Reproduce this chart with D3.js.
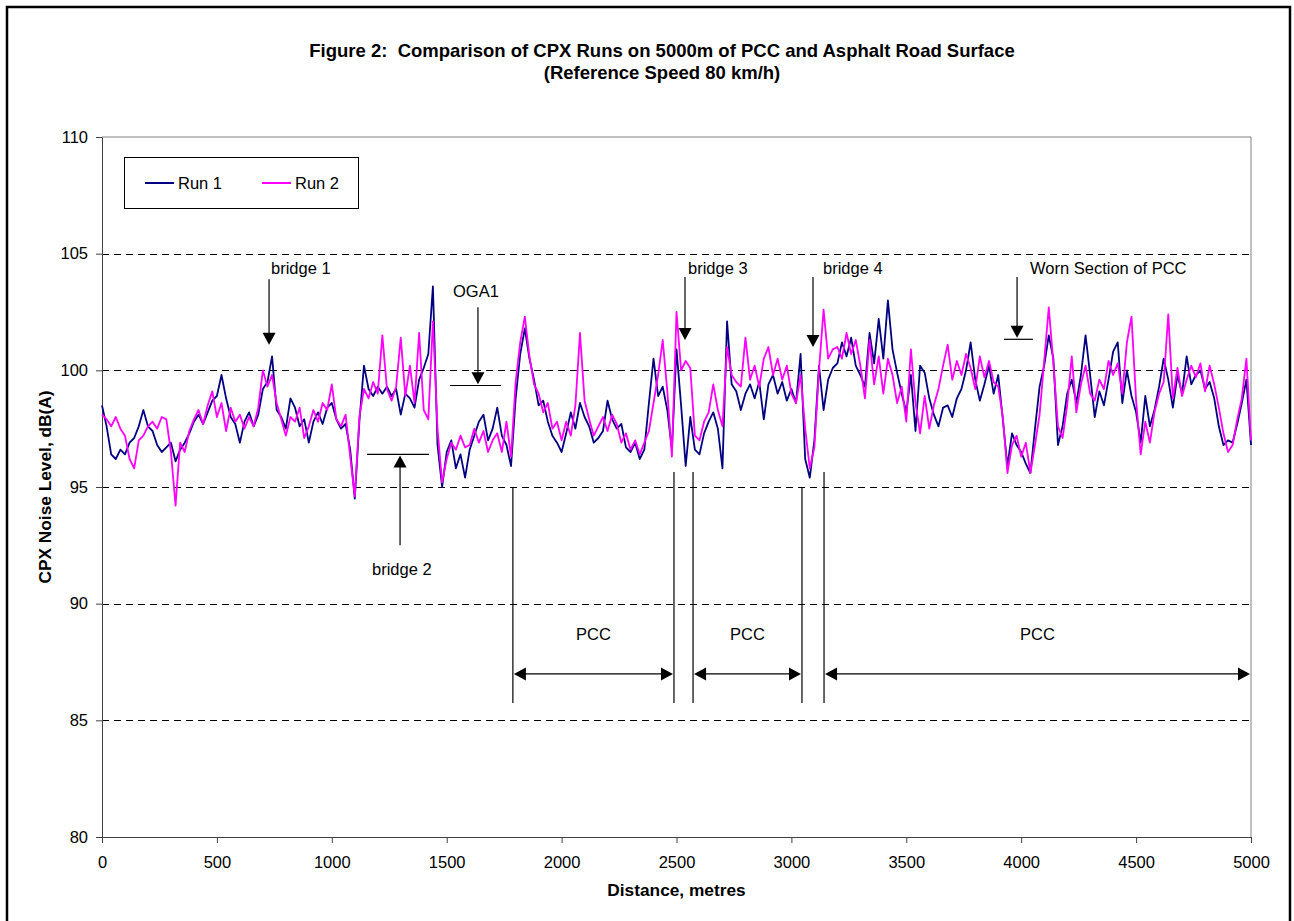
<!DOCTYPE html>
<html>
<head>
<meta charset="utf-8">
<script src="https://cdn.jsdelivr.net/npm/d3@7"></script>
<style>
  body { margin: 0; background: #fff; }
  svg { font-family: "Liberation Sans", Arial, sans-serif; }
</style>
</head>
<body>
<svg id="chart"></svg>
<script>
// sampling step along the road, metres
const stepMetres = 20;

// CPX noise level, dB(A), one value every 20 m from 0 to 5000 m
const run1 = [
  98.5, 97.6, 96.4, 96.2, 96.6, 96.4, 96.9, 97.1, 97.6, 98.3,
  97.6, 97.4, 96.8, 96.5, 96.7, 96.9, 96.1, 96.6, 96.9, 97.3,
  97.8, 98.1, 97.7, 98.2, 98.7, 98.9, 99.8, 98.8, 98.0, 97.7,
  96.9, 97.8, 98.2, 97.6, 98.1, 99.2, 99.5, 100.6, 98.3, 98.0,
  97.5, 98.8, 98.4, 97.6, 97.9, 96.9, 97.8, 98.2, 97.7, 98.4,
  98.6, 97.9, 97.5, 97.7, 96.6, 94.5, 97.8, 100.2, 99.2, 98.9,
  99.3, 99.0, 99.3, 98.9, 99.2, 98.1, 99.0, 98.8, 98.4, 99.6,
  100.1, 100.7, 103.6, 96.8, 95.0, 96.5, 97.0, 95.8, 96.4, 95.4,
  96.6, 97.2, 97.8, 98.1, 97.0, 97.5, 98.4, 97.2, 96.8, 95.9,
  98.8, 100.7, 101.8, 100.5, 99.6, 98.5, 98.7, 97.8, 97.2, 96.9,
  96.5, 97.3, 98.2, 97.5, 98.6, 98.0, 97.6, 96.9, 97.1, 97.4,
  98.7, 97.9, 97.5, 97.7, 96.7, 96.5, 96.9, 96.2, 96.6, 98.6,
  100.5, 98.9, 99.3, 98.3, 96.6, 100.9, 98.5, 95.9, 98.0, 96.6,
  96.4, 97.3, 97.8, 98.2, 97.5, 95.8, 102.1, 99.4, 99.1, 98.3,
  99.0, 99.4, 98.8, 99.5, 97.9, 99.4, 99.8, 99.0, 99.5, 98.7,
  99.2, 98.6, 100.7, 96.2, 95.4, 97.0, 100.2, 98.3, 99.6, 100.1,
  100.3, 101.2, 100.6, 101.4, 100.2, 99.8, 99.3, 101.6, 100.3, 102.2,
  100.5, 103.0, 100.9, 99.9, 99.0, 98.2, 99.8, 97.4, 100.2, 99.9,
  98.8, 98.1, 97.6, 98.4, 98.5, 98.0, 98.8, 99.2, 100.0, 101.2,
  99.6, 98.7, 99.4, 100.2, 99.0, 99.8, 97.9, 95.9, 97.3, 96.8,
  96.5, 96.0, 95.6, 97.5, 99.3, 100.2, 101.5, 100.5, 96.8, 97.6,
  99.0, 99.6, 98.6, 99.8, 101.5, 99.8, 98.0, 99.1, 98.5, 99.6,
  100.8, 101.2, 98.6, 100.0, 98.9, 98.2, 96.9, 98.9, 97.6, 98.3,
  99.3, 100.5, 99.6, 98.4, 99.8, 99.0, 100.6, 99.4, 99.8, 100.0,
  99.2, 99.5, 98.8, 97.6, 96.8, 97.0, 96.9, 97.7, 98.6, 99.6,
  96.8
];

const run2 = [
  98.1, 97.9, 97.6, 98.0, 97.5, 97.2, 96.2, 95.8, 97.0, 97.2,
  97.6, 97.8, 97.5, 98.0, 97.9, 96.5, 94.2, 96.9, 96.5, 97.4,
  97.9, 98.3, 97.7, 98.5, 99.1, 98.0, 98.6, 97.4, 98.4, 97.8,
  98.1, 97.5, 98.0, 97.6, 98.4, 100.0, 99.3, 99.8, 98.6, 97.9,
  97.2, 98.0, 97.8, 98.4, 97.1, 97.6, 98.3, 97.8, 98.6, 98.3,
  99.4, 97.9, 97.6, 98.1, 96.3, 94.6, 98.0, 99.2, 98.8, 99.5,
  99.0, 101.5, 99.2, 98.7, 99.3, 101.4, 98.9, 100.2, 98.6, 101.6,
  98.3, 97.9, 102.1, 97.5, 95.2, 96.2, 96.9, 96.6, 97.2, 96.7,
  96.8, 97.5, 96.9, 97.4, 96.5, 97.0, 97.3, 96.5, 97.8, 96.3,
  99.5, 101.2, 102.3, 100.6, 99.4, 99.0, 98.2, 98.6, 97.5, 97.8,
  97.0, 97.8, 97.2, 98.5, 101.6, 98.7, 97.9, 97.2, 97.6, 98.0,
  97.4, 98.1, 97.7, 96.9, 97.3, 96.6, 97.0, 96.4, 96.9, 97.4,
  98.6, 99.8, 101.3, 99.1, 96.3, 102.5, 100.0, 100.4, 100.1, 97.2,
  97.0, 97.8, 98.2, 99.4, 98.3, 97.6, 101.0, 99.8, 99.5, 99.3,
  101.4, 99.6, 100.2, 99.3, 100.5, 101.0, 99.8, 100.5, 99.6, 100.2,
  99.0, 98.6, 99.8, 97.5, 95.8, 96.7, 100.0, 102.6, 100.5, 100.9,
  101.0, 100.5, 101.6, 100.7, 101.3, 100.2, 98.8, 101.3, 99.4, 100.6,
  99.0, 100.5, 99.8, 98.6, 99.3, 97.8, 100.9, 98.6, 97.3, 98.9,
  97.5, 98.5, 99.2, 100.2, 101.1, 99.6, 100.4, 99.8, 100.7, 100.1,
  99.2, 100.6, 99.7, 100.4, 99.5, 99.3, 98.0, 95.6, 96.8, 97.2,
  96.3, 96.9, 95.6, 96.8, 98.1, 100.4, 102.7, 100.3, 97.6, 97.1,
  98.5, 100.6, 98.2, 99.4, 100.2, 99.0, 98.7, 99.6, 99.2, 100.4,
  99.8, 100.3, 99.0, 101.2, 102.3, 98.7, 96.4, 97.8, 96.9, 98.2,
  99.0, 99.5, 102.4, 98.8, 100.1, 98.9, 99.6, 100.2, 99.7, 100.3,
  99.1, 100.2, 99.4, 98.4, 97.3, 96.5, 96.8, 97.9, 98.8, 100.5,
  97.0
];

const seriesNames = ['Run 1', 'Run 2'];
const seriesColors = ['#000080', '#ff00ff'];

const yTicks = [80, 85, 90, 95, 100, 105, 110];
const xTicks = [0, 500, 1000, 1500, 2000, 2500, 3000, 3500, 4000, 4500, 5000];
const gridValues = [85, 90, 95, 100, 105];

// annotations in data units: [distance, dB]
const pointerArrows = [
  { label: 'bridge 1', from: [727, 103.9], to: [727, 101.1] },
  { label: 'OGA1', from: [1636, 102.7], to: [1636, 99.4] },
  { label: 'bridge 3', from: [2537, 104.0], to: [2537, 101.3] },
  { label: 'bridge 4', from: [3094, 104.0], to: [3094, 101.0] },
  { label: 'Worn Section of PCC', from: [3982, 104.0], to: [3982, 101.4] },
  { label: 'bridge 2', from: [1297, 92.5], to: [1297, 96.35] }
];
const markerBars = [
  { x1: 1514, x2: 1736, y: 99.35 },
  { x1: 1153, x2: 1423, y: 96.4 },
  { x1: 3925, x2: 4051, y: 101.33 }
];
const sectionLines = [
  { x: 1788, top: 94.96 },
  { x: 2489, top: 95.64 },
  { x: 2572, top: 95.64 },
  { x: 3046, top: 94.96 },
  { x: 3142, top: 95.64 }
];
const sectionBottom = 85.74;
const pccSpans = [[1788, 2489], [2572, 3046], [3142, 5000]];
const spanLevel = 86.99;
const spanLabelLevel = 88.7;

const config = {
  width: 1294,
  height: 921,
  margin: { top: 137, right: 43, bottom: 84, left: 102 }
};

const svg = d3.select('#chart')
    .attr('width', config.width)
    .attr('height', config.height);

const innerW = config.width - config.margin.left - config.margin.right;
const innerH = config.height - config.margin.top - config.margin.bottom;

// outer frame of the figure
svg.append('rect')
    .attr('x', 7).attr('y', 7)
    .attr('width', 1283).attr('height', 940)
    .attr('fill', 'none')
    .attr('stroke', '#000')
    .attr('stroke-width', 2.5);

const x = d3.scaleLinear().domain([0, 5000]).range([0, innerW]);
const y = d3.scaleLinear().domain([80, 110]).range([innerH, 0]);

const chart = svg.append('g')
    .attr('transform', `translate(${config.margin.left},${config.margin.top})`);

// titles
svg.append('text')
    .attr('x', 662).attr('y', 57)
    .attr('text-anchor', 'middle')
    .style('white-space', 'pre')
    .style('font-weight', 'bold').style('font-size', '18.5px')
    .text('Figure 2:  Comparison of CPX Runs on 5000m of PCC and Asphalt Road Surface');
svg.append('text')
    .attr('x', 662).attr('y', 79)
    .attr('text-anchor', 'middle')
    .style('font-weight', 'bold').style('font-size', '18.5px')
    .text('(Reference Speed 80 km/h)');

// plot area border (top and right)
chart.append('path')
    .attr('d', `M0,0H${innerW}V${innerH}`)
    .attr('fill', 'none')
    .attr('stroke', '#808080')
    .attr('stroke-width', 1);

// dashed gridlines
chart.selectAll('.grid')
    .data(gridValues)
    .join('line')
    .attr('class', 'grid')
    .attr('x1', 0).attr('x2', innerW)
    .attr('y1', d => Math.round(y(d)) + 0.5)
    .attr('y2', d => Math.round(y(d)) + 0.5)
    .attr('stroke', '#000')
    .attr('stroke-dasharray', '7,5');

// axes
const yAxis = chart.append('g')
    .call(d3.axisLeft(y).tickValues(yTicks).tickSize(6).tickSizeOuter(0).tickPadding(8));
const xAxis = chart.append('g')
    .attr('transform', `translate(0,${innerH})`)
    .call(d3.axisBottom(x).tickValues(xTicks).tickFormat(d3.format('d'))
      .tickSize(6).tickSizeOuter(0).tickPadding(13));

[yAxis, xAxis].forEach(ax => {
  ax.select('.domain').attr('stroke', '#404040');
  ax.selectAll('.tick line').attr('stroke', '#404040');
  ax.selectAll('.tick text')
      .attr('fill', '#000')
      .style('font-size', '16.5px')
      .style('font-family', '"Liberation Sans", Arial, sans-serif');
});

svg.append('text')
    .attr('transform', `translate(51,${config.margin.top + innerH / 2}) rotate(-90)`)
    .attr('text-anchor', 'middle')
    .style('font-weight', 'bold').style('font-size', '17.3px')
    .text('CPX Noise Level, dB(A)');
svg.append('text')
    .attr('x', config.margin.left + innerW / 2).attr('y', 896)
    .attr('text-anchor', 'middle')
    .style('font-weight', 'bold').style('font-size', '17.3px')
    .text('Distance, metres');

// series
const line = d3.line()
    .x((d, i) => x(i * stepMetres))
    .y(d => y(d));

chart.selectAll('.series')
    .data([run1, run2])
    .join('path')
    .attr('class', 'series')
    .attr('d', line)
    .attr('fill', 'none')
    .attr('stroke', (d, i) => seriesColors[i])
    .attr('stroke-width', 1.8)
    .attr('stroke-linejoin', 'round');

// legend
const legend = chart.append('g').attr('transform', 'translate(22,20)');
legend.append('rect')
    .attr('x', 0.5).attr('y', 0.5)
    .attr('width', 234).attr('height', 51)
    .attr('fill', '#fff')
    .attr('stroke', '#000');
const entries = legend.selectAll('.entry')
    .data(seriesNames)
    .join('g')
    .attr('class', 'entry')
    .attr('transform', (d, i) => `translate(${21 + i * 117},26)`);
entries.append('line')
    .attr('x1', 0).attr('x2', 29)
    .attr('stroke', (d, i) => seriesColors[i])
    .attr('stroke-width', 2);
entries.append('text')
    .attr('x', 33).attr('dy', '0.35em')
    .style('font-size', '16.5px')
    .text(d => d);

// annotations
const ann = chart.append('g');

function arrowHead(g, px, py, dir) {
  // dir: 'down', 'up', 'left', 'right'
  const L = 12, W = 6.5;
  let pts;
  if (dir === 'down') pts = [[px, py], [px - W, py - L], [px + W, py - L]];
  if (dir === 'up') pts = [[px, py], [px - W, py + L], [px + W, py + L]];
  if (dir === 'left') pts = [[px, py], [px + L, py - W], [px + L, py + W]];
  if (dir === 'right') pts = [[px, py], [px - L, py - W], [px - L, py + W]];
  g.append('path').attr('d', 'M' + pts.join('L') + 'Z').attr('fill', '#000');
}

pointerArrows.forEach(a => {
  const fx = x(a.from[0]), fy = y(a.from[1]);
  const tx = x(a.to[0]), ty = y(a.to[1]);
  const dir = ty > fy ? 'down' : 'up';
  ann.append('line')
      .attr('x1', fx).attr('y1', fy)
      .attr('x2', tx).attr('y2', dir === 'down' ? ty - 8 : ty + 8)
      .attr('stroke', '#000').attr('stroke-width', 1.2);
  arrowHead(ann, tx, ty, dir);
});

markerBars.forEach(b => {
  ann.append('line')
      .attr('x1', x(b.x1)).attr('x2', x(b.x2))
      .attr('y1', y(b.y)).attr('y2', y(b.y))
      .attr('stroke', '#000').attr('stroke-width', 1.2);
});

sectionLines.forEach(s => {
  ann.append('line')
      .attr('x1', x(s.x)).attr('x2', x(s.x))
      .attr('y1', y(s.top)).attr('y2', y(sectionBottom))
      .attr('stroke', '#000').attr('stroke-width', 1.2);
});

pccSpans.forEach(([a, b]) => {
  const yy = y(spanLevel);
  ann.append('line')
      .attr('x1', x(a) + 6).attr('x2', x(b) - 6)
      .attr('y1', yy).attr('y2', yy)
      .attr('stroke', '#000').attr('stroke-width', 1.2);
  arrowHead(ann, x(a) + 1, yy, 'left');
  arrowHead(ann, x(b) - 1, yy, 'right');
  ann.append('text')
      .attr('x', (x(a) + x(b)) / 2).attr('y', y(spanLabelLevel))
      .attr('dy', '0.35em')
      .attr('text-anchor', 'middle')
      .style('font-size', '16.5px')
      .text('PCC');
});

// arrow labels
const labelPos = {
  'bridge 1': [271, 274],
  'OGA1': [453, 297],
  'bridge 3': [688, 274],
  'bridge 4': [823, 274],
  'Worn Section of PCC': [1030, 274],
  'bridge 2': [372, 575]
};
pointerArrows.forEach(a => {
  const p = labelPos[a.label];
  svg.append('text')
      .attr('x', p[0]).attr('y', p[1])
      .style('font-size', '16.5px')
      .text(a.label);
});
</script>
</body>
</html>
